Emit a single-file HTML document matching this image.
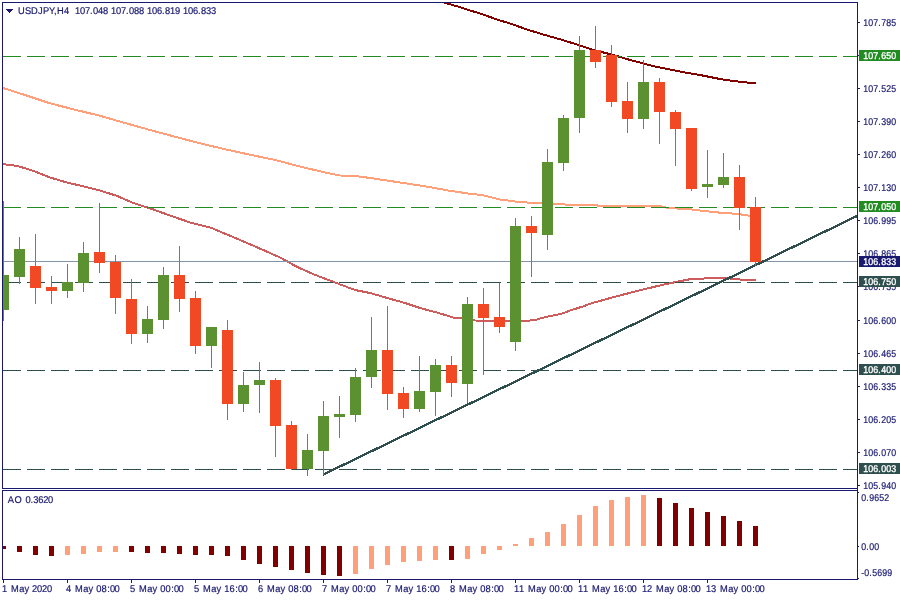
<!DOCTYPE html>
<html lang="en"><head><meta charset="utf-8"><title>USDJPY,H4</title>
<style>
html,body{margin:0;padding:0;background:#fff;}
body{width:900px;height:600px;overflow:hidden;}
svg{display:block;}
text{font-family:"Liberation Sans",Arial,sans-serif;font-size:9.8px;text-rendering:geometricPrecision;fill:#191970;stroke:#191970;stroke-width:0.2px;}
.w{fill:#fff;stroke:#fff;stroke-width:0.35px;}
</style></head><body>
<svg width="900" height="600" viewBox="0 0 900 600">
<rect x="0" y="0" width="900" height="600" fill="#fff"/>
<defs><clipPath id="cm"><rect x="3" y="3" width="854" height="485"/></clipPath>
<clipPath id="ci"><rect x="3" y="491" width="854" height="88"/></clipPath></defs>
<g clip-path="url(#cm)" shape-rendering="crispEdges">
<polyline fill="none" stroke="#ffa07a" stroke-width="2" stroke-linejoin="round" points="3,88 25,95 50,103.3 75,109.7 100,115.8 125,123 150,130 175,136.7 200,143.3 225,149.2 250,154.7 275,160 300,166.5 325,172.5 340,175.5 355,175.9 375,178.7 400,182.5 425,186.3 450,190.8 466.7,193.3 483.3,195.3 500,199.5 516.7,201.7 533.3,203 556.7,203.8 566.7,204.7 595,205 600,206 660,206 668,208 690,209.2 706.7,211.3 723.3,213 736.7,213.8 750,215.8 756,216.5"/>
<polyline fill="none" stroke="#cd5c5c" stroke-width="2" stroke-linejoin="round" points="3,164.2 16.7,165.8 33.3,170.8 50,177.5 66.7,182.5 83.3,186.3 100,190.5 116.7,195.8 133.3,203 150,208.3 165,213.7 190,222.5 211.7,228 240,240 265,250.8 280,257.5 296.7,266.7 313.3,274.2 335,282.5 355,290 370,293 388.3,298.3 405,303 420,308 436.7,312.5 453.3,317.5 461.7,318.3 475,320.5 493,320.8 528,320.8 536,319.7 545,317.2 561.7,313.7 570,310.5 585,305.8 590,303.7 615,296.7 640,290.3 665,284.2 690,279.2 715,278 733,278.6 741,279.7 756,280"/>
<polyline fill="none" stroke="#800000" stroke-width="2" stroke-linejoin="round" points="443,2.2 445,3 450,4.2 460,7.2 470,10.5 480,13.5 490,17 500,20.5 510,23.5 520,27 530,30.5 545,35 560,39.3 579.5,45.3 590.3,49 601.3,52 610.7,54.3 617,56 630,60 643.5,63.5 655,66.5 670,69.5 685,72.5 700,75 710,77 720,79 730,80.5 740,81.8 750,82.8 756,83"/>
<line x1="3" y1="261.5" x2="857" y2="261.5" stroke="#8593a8" stroke-width="1"/>
<line x1="3" y1="56.5" x2="857" y2="56.5" stroke="#228b22" stroke-width="1" stroke-dasharray="18 6"/>
<line x1="3" y1="207.5" x2="857" y2="207.5" stroke="#228b22" stroke-width="1" stroke-dasharray="18 6"/>
<line x1="3" y1="282.5" x2="857" y2="282.5" stroke="#2f4f4f" stroke-width="1" stroke-dasharray="18 6"/>
<line x1="3" y1="370.5" x2="857" y2="370.5" stroke="#2f4f4f" stroke-width="1" stroke-dasharray="18 6"/>
<line x1="3" y1="469.5" x2="857" y2="469.5" stroke="#2f4f4f" stroke-width="1" stroke-dasharray="18 6"/>
<line x1="323" y1="474.7" x2="857" y2="216.0" stroke="#2f4f4f" stroke-width="2.3"/>
<rect x="3" y="201" width="1" height="120" fill="#5b9130"/>
<rect x="-2" y="275" width="11" height="35" fill="#5b9130"/>
<rect x="19" y="237" width="1" height="47" fill="#5b9130"/>
<rect x="14" y="249" width="11" height="28" fill="#5b9130"/>
<rect x="35" y="234" width="1" height="70" fill="#f04923"/>
<rect x="30" y="266" width="11" height="22" fill="#f04923"/>
<rect x="51" y="276" width="1" height="28" fill="#f04923"/>
<rect x="46" y="287" width="11" height="4" fill="#f04923"/>
<rect x="67" y="264" width="1" height="34" fill="#5b9130"/>
<rect x="62" y="282" width="11" height="9" fill="#5b9130"/>
<rect x="83" y="242" width="1" height="50" fill="#5b9130"/>
<rect x="78" y="253" width="11" height="30" fill="#5b9130"/>
<rect x="99" y="203" width="1" height="70" fill="#f04923"/>
<rect x="94" y="252" width="11" height="11" fill="#f04923"/>
<rect x="115" y="255" width="1" height="59" fill="#f04923"/>
<rect x="110" y="262" width="11" height="36" fill="#f04923"/>
<rect x="131" y="279" width="1" height="65" fill="#f04923"/>
<rect x="126" y="299" width="11" height="35" fill="#f04923"/>
<rect x="147" y="306" width="1" height="37" fill="#5b9130"/>
<rect x="142" y="319" width="11" height="15" fill="#5b9130"/>
<rect x="163" y="267" width="1" height="62" fill="#5b9130"/>
<rect x="158" y="275" width="11" height="45" fill="#5b9130"/>
<rect x="179" y="246" width="1" height="66" fill="#f04923"/>
<rect x="174" y="275" width="11" height="24" fill="#f04923"/>
<rect x="195" y="291" width="1" height="63" fill="#f04923"/>
<rect x="190" y="298" width="11" height="48" fill="#f04923"/>
<rect x="211" y="327" width="1" height="41" fill="#5b9130"/>
<rect x="206" y="327" width="11" height="19" fill="#5b9130"/>
<rect x="227" y="320" width="1" height="100" fill="#f04923"/>
<rect x="222" y="330" width="11" height="74" fill="#f04923"/>
<rect x="243" y="372" width="1" height="40" fill="#5b9130"/>
<rect x="238" y="385" width="11" height="19" fill="#5b9130"/>
<rect x="259" y="362" width="1" height="51" fill="#5b9130"/>
<rect x="254" y="380" width="11" height="5" fill="#5b9130"/>
<rect x="275" y="378" width="1" height="79" fill="#f04923"/>
<rect x="270" y="380" width="11" height="46" fill="#f04923"/>
<rect x="291" y="421" width="1" height="49" fill="#f04923"/>
<rect x="286" y="425" width="11" height="44" fill="#f04923"/>
<rect x="307" y="434" width="1" height="42" fill="#5b9130"/>
<rect x="302" y="450" width="11" height="19" fill="#5b9130"/>
<rect x="323" y="401" width="1" height="74" fill="#5b9130"/>
<rect x="318" y="416" width="11" height="35" fill="#5b9130"/>
<rect x="339" y="396" width="1" height="42" fill="#5b9130"/>
<rect x="334" y="414" width="11" height="3" fill="#5b9130"/>
<rect x="355" y="368" width="1" height="54" fill="#5b9130"/>
<rect x="350" y="377" width="11" height="38" fill="#5b9130"/>
<rect x="371" y="317" width="1" height="71" fill="#5b9130"/>
<rect x="366" y="350" width="11" height="27" fill="#5b9130"/>
<rect x="387" y="306" width="1" height="104" fill="#f04923"/>
<rect x="382" y="350" width="11" height="44" fill="#f04923"/>
<rect x="403" y="387" width="1" height="31" fill="#f04923"/>
<rect x="398" y="393" width="11" height="16" fill="#f04923"/>
<rect x="419" y="356" width="1" height="56" fill="#5b9130"/>
<rect x="414" y="391" width="11" height="18" fill="#5b9130"/>
<rect x="435" y="359" width="1" height="57" fill="#5b9130"/>
<rect x="430" y="365" width="11" height="27" fill="#5b9130"/>
<rect x="451" y="356" width="1" height="41" fill="#f04923"/>
<rect x="446" y="365" width="11" height="18" fill="#f04923"/>
<rect x="467" y="297" width="1" height="106" fill="#5b9130"/>
<rect x="462" y="304" width="11" height="80" fill="#5b9130"/>
<rect x="483" y="288" width="1" height="87" fill="#f04923"/>
<rect x="478" y="304" width="11" height="14" fill="#f04923"/>
<rect x="499" y="283" width="1" height="50" fill="#f04923"/>
<rect x="494" y="317" width="11" height="10" fill="#f04923"/>
<rect x="515" y="218" width="1" height="133" fill="#5b9130"/>
<rect x="510" y="226" width="11" height="116" fill="#5b9130"/>
<rect x="531" y="216" width="1" height="61" fill="#f04923"/>
<rect x="526" y="226" width="11" height="7" fill="#f04923"/>
<rect x="547" y="149" width="1" height="101" fill="#5b9130"/>
<rect x="542" y="162" width="11" height="73" fill="#5b9130"/>
<rect x="563" y="115" width="1" height="56" fill="#5b9130"/>
<rect x="558" y="118" width="11" height="45" fill="#5b9130"/>
<rect x="579" y="36" width="1" height="97" fill="#5b9130"/>
<rect x="574" y="50" width="11" height="68" fill="#5b9130"/>
<rect x="595" y="26" width="1" height="42" fill="#f04923"/>
<rect x="590" y="50" width="11" height="12" fill="#f04923"/>
<rect x="611" y="45" width="1" height="62" fill="#f04923"/>
<rect x="606" y="55" width="11" height="47" fill="#f04923"/>
<rect x="627" y="82" width="1" height="51" fill="#f04923"/>
<rect x="622" y="101" width="11" height="18" fill="#f04923"/>
<rect x="643" y="60" width="1" height="69" fill="#5b9130"/>
<rect x="638" y="82" width="11" height="37" fill="#5b9130"/>
<rect x="659" y="78" width="1" height="66" fill="#f04923"/>
<rect x="654" y="82" width="11" height="30" fill="#f04923"/>
<rect x="675" y="110" width="1" height="56" fill="#f04923"/>
<rect x="670" y="112" width="11" height="17" fill="#f04923"/>
<rect x="691" y="128" width="1" height="63" fill="#f04923"/>
<rect x="686" y="128" width="11" height="61" fill="#f04923"/>
<rect x="707" y="150" width="1" height="48" fill="#5b9130"/>
<rect x="702" y="184" width="11" height="3" fill="#5b9130"/>
<rect x="723" y="153" width="1" height="35" fill="#5b9130"/>
<rect x="718" y="177" width="11" height="8" fill="#5b9130"/>
<rect x="739" y="165" width="1" height="65" fill="#f04923"/>
<rect x="734" y="177" width="11" height="31" fill="#f04923"/>
<rect x="755" y="197" width="1" height="69" fill="#f04923"/>
<rect x="750" y="207" width="11" height="55" fill="#f04923"/>
</g>
<g clip-path="url(#ci)" shape-rendering="crispEdges">
<rect x="1" y="546" width="5" height="3" fill="#800000"/>
<rect x="17" y="546" width="5" height="6" fill="#800000"/>
<rect x="33" y="546" width="5" height="9" fill="#800000"/>
<rect x="49" y="546" width="5" height="10" fill="#800000"/>
<rect x="65" y="546" width="5" height="9" fill="#ffa07a"/>
<rect x="81" y="546" width="5" height="8" fill="#ffa07a"/>
<rect x="97" y="546" width="5" height="6" fill="#ffa07a"/>
<rect x="113" y="546" width="5" height="6" fill="#ffa07a"/>
<rect x="129" y="546" width="5" height="6" fill="#800000"/>
<rect x="145" y="546" width="5" height="7" fill="#800000"/>
<rect x="161" y="546" width="5" height="7" fill="#800000"/>
<rect x="177" y="546" width="5" height="8" fill="#800000"/>
<rect x="193" y="546" width="5" height="9" fill="#800000"/>
<rect x="209" y="546" width="5" height="9" fill="#800000"/>
<rect x="225" y="546" width="5" height="10" fill="#800000"/>
<rect x="241" y="546" width="5" height="14" fill="#800000"/>
<rect x="257" y="546" width="5" height="18" fill="#800000"/>
<rect x="273" y="546" width="5" height="21" fill="#800000"/>
<rect x="289" y="546" width="5" height="24" fill="#800000"/>
<rect x="305" y="546" width="5" height="27" fill="#800000"/>
<rect x="321" y="546" width="5" height="29" fill="#800000"/>
<rect x="337" y="546" width="5" height="30" fill="#800000"/>
<rect x="353" y="546" width="5" height="28" fill="#ffa07a"/>
<rect x="369" y="546" width="5" height="23" fill="#ffa07a"/>
<rect x="385" y="546" width="5" height="19" fill="#ffa07a"/>
<rect x="401" y="546" width="5" height="16" fill="#ffa07a"/>
<rect x="417" y="546" width="5" height="15" fill="#ffa07a"/>
<rect x="433" y="546" width="5" height="14" fill="#ffa07a"/>
<rect x="449" y="546" width="5" height="14" fill="#800000"/>
<rect x="465" y="546" width="5" height="13" fill="#ffa07a"/>
<rect x="481" y="546" width="5" height="8" fill="#ffa07a"/>
<rect x="497" y="546" width="5" height="4" fill="#ffa07a"/>
<rect x="513" y="544" width="5" height="2" fill="#ffa07a"/>
<rect x="529" y="538" width="5" height="8" fill="#ffa07a"/>
<rect x="545" y="532" width="5" height="14" fill="#ffa07a"/>
<rect x="561" y="524" width="5" height="22" fill="#ffa07a"/>
<rect x="577" y="515" width="5" height="31" fill="#ffa07a"/>
<rect x="593" y="506" width="5" height="40" fill="#ffa07a"/>
<rect x="609" y="500" width="5" height="46" fill="#ffa07a"/>
<rect x="625" y="497" width="5" height="49" fill="#ffa07a"/>
<rect x="641" y="495" width="5" height="51" fill="#ffa07a"/>
<rect x="657" y="498" width="5" height="48" fill="#800000"/>
<rect x="673" y="503" width="5" height="43" fill="#800000"/>
<rect x="689" y="508" width="5" height="38" fill="#800000"/>
<rect x="705" y="512" width="5" height="34" fill="#800000"/>
<rect x="721" y="516" width="5" height="30" fill="#800000"/>
<rect x="737" y="521" width="5" height="25" fill="#800000"/>
<rect x="753" y="526" width="5" height="20" fill="#800000"/>
</g>
<g shape-rendering="crispEdges" fill="#191970">
<rect x="2" y="2" width="856" height="1"/>
<rect x="2" y="2" width="1" height="487"/>
<rect x="2" y="488" width="856" height="1"/>
<rect x="857" y="2" width="1" height="578"/>
<rect x="2" y="490" width="856" height="1"/>
<rect x="2" y="490" width="1" height="90"/>
<rect x="2" y="579" width="856" height="1"/>
<rect x="858" y="22" width="2" height="1"/>
<rect x="858" y="88" width="2" height="1"/>
<rect x="858" y="121" width="2" height="1"/>
<rect x="858" y="154" width="2" height="1"/>
<rect x="858" y="187" width="2" height="1"/>
<rect x="858" y="220" width="2" height="1"/>
<rect x="858" y="253" width="2" height="1"/>
<rect x="858" y="286" width="2" height="1"/>
<rect x="858" y="320" width="2" height="1"/>
<rect x="858" y="353" width="2" height="1"/>
<rect x="858" y="386" width="2" height="1"/>
<rect x="858" y="419" width="2" height="1"/>
<rect x="858" y="452" width="2" height="1"/>
<rect x="858" y="485" width="2" height="1"/>
<rect x="858" y="55" width="2" height="1"/>
<rect x="858" y="492" width="1" height="1"/>
<rect x="858" y="546" width="1" height="1"/>
<rect x="858" y="578" width="1" height="1"/>
<rect x="3" y="580" width="1" height="3"/>
<rect x="67" y="580" width="1" height="3"/>
<rect x="131" y="580" width="1" height="3"/>
<rect x="195" y="580" width="1" height="3"/>
<rect x="259" y="580" width="1" height="3"/>
<rect x="323" y="580" width="1" height="3"/>
<rect x="387" y="580" width="1" height="3"/>
<rect x="451" y="580" width="1" height="3"/>
<rect x="515" y="580" width="1" height="3"/>
<rect x="579" y="580" width="1" height="3"/>
<rect x="643" y="580" width="1" height="3"/>
<rect x="707" y="580" width="1" height="3"/>
</g>
<path d="M6 9h7v1h-1v1h-1v1h-1v1h-1v-1h-1v-1h-1v-1h-1z" fill="#191970" shape-rendering="crispEdges"/>
<text transform="scale(0.95 1)" x="18.95 26.32 32.63 40.00 45.26 51.58 56.84 60.00 67.37 72.63 75.79 78.95 84.21 89.47 94.74 97.89 103.16 108.42 113.68 116.84 122.11 127.37 132.63 135.79 141.05 146.32 151.58 154.74 160.00 165.26 170.53 173.68 178.95 184.21 189.47 192.63 197.89 203.16 208.42 211.58 216.84 222.11" y="14" xml:space="preserve">USDJPY,H4  107.048 107.088 106.819 106.833</text>
<text transform="scale(0.95 1)" x="8.21 15.26 22.63 26.95 32.21 34.95 40.21 45.47 50.53" y="503" xml:space="preserve">AO 0.3620</text>
<text transform="scale(0.9 1)" x="959.22 964.78 970.33 975.89 979.22 984.78 990.33" y="26" xml:space="preserve">107.785</text>
<text transform="scale(0.9 1)" x="959.22 964.78 970.33 975.89 979.22 984.78 990.33" y="92" xml:space="preserve">107.525</text>
<text transform="scale(0.9 1)" x="959.22 964.78 970.33 975.89 979.22 984.78 990.33" y="125" xml:space="preserve">107.390</text>
<text transform="scale(0.9 1)" x="959.22 964.78 970.33 975.89 979.22 984.78 990.33" y="158" xml:space="preserve">107.260</text>
<text transform="scale(0.9 1)" x="959.22 964.78 970.33 975.89 979.22 984.78 990.33" y="191" xml:space="preserve">107.130</text>
<text transform="scale(0.9 1)" x="959.22 964.78 970.33 975.89 979.22 984.78 990.33" y="224" xml:space="preserve">106.995</text>
<text transform="scale(0.9 1)" x="959.22 964.78 970.33 975.89 979.22 984.78 990.33" y="257" xml:space="preserve">106.865</text>
<text transform="scale(0.9 1)" x="959.22 964.78 970.33 975.89 979.22 984.78 990.33" y="290" xml:space="preserve">106.735</text>
<text transform="scale(0.9 1)" x="959.22 964.78 970.33 975.89 979.22 984.78 990.33" y="324" xml:space="preserve">106.600</text>
<text transform="scale(0.9 1)" x="959.22 964.78 970.33 975.89 979.22 984.78 990.33" y="357" xml:space="preserve">106.465</text>
<text transform="scale(0.9 1)" x="959.22 964.78 970.33 975.89 979.22 984.78 990.33" y="390" xml:space="preserve">106.335</text>
<text transform="scale(0.9 1)" x="959.22 964.78 970.33 975.89 979.22 984.78 990.33" y="423" xml:space="preserve">106.205</text>
<text transform="scale(0.9 1)" x="959.22 964.78 970.33 975.89 979.22 984.78 990.33" y="456" xml:space="preserve">106.070</text>
<text transform="scale(0.9 1)" x="959.22 964.78 970.33 975.89 979.22 984.78 990.33" y="489" xml:space="preserve">105.940</text>
<rect x="859" y="50" width="41" height="11" fill="#228b22" shape-rendering="crispEdges"/>
<text transform="scale(0.9 1)" x="959.22 964.78 970.33 975.89 979.22 984.78 990.33" y="59" class="w" xml:space="preserve">107.650</text>
<rect x="859" y="201" width="41" height="11" fill="#228b22" shape-rendering="crispEdges"/>
<text transform="scale(0.9 1)" x="959.22 964.78 970.33 975.89 979.22 984.78 990.33" y="210" class="w" xml:space="preserve">107.050</text>
<rect x="859" y="276" width="41" height="11" fill="#2f4f4f" shape-rendering="crispEdges"/>
<text transform="scale(0.9 1)" x="959.22 964.78 970.33 975.89 979.22 984.78 990.33" y="285" class="w" xml:space="preserve">106.750</text>
<rect x="859" y="364" width="41" height="11" fill="#2f4f4f" shape-rendering="crispEdges"/>
<text transform="scale(0.9 1)" x="959.22 964.78 970.33 975.89 979.22 984.78 990.33" y="373" class="w" xml:space="preserve">106.400</text>
<rect x="859" y="463" width="41" height="11" fill="#2f4f4f" shape-rendering="crispEdges"/>
<text transform="scale(0.9 1)" x="959.22 964.78 970.33 975.89 979.22 984.78 990.33" y="472" class="w" xml:space="preserve">106.003</text>
<rect x="859" y="256" width="41" height="11" fill="#191970" shape-rendering="crispEdges"/>
<text transform="scale(0.9 1)" x="959.22 964.78 970.33 975.89 979.22 984.78 990.33" y="265" class="w" xml:space="preserve">106.833</text>
<text transform="scale(0.9 1)" x="957.00 962.56 965.89 971.44 977.00 982.56" y="501" xml:space="preserve">0.9652</text>
<text transform="scale(0.9 1)" x="957.00 962.56 965.89 971.44" y="550" xml:space="preserve">0.00</text>
<text transform="scale(0.9 1)" x="957.00 960.33 965.89 969.22 974.78 980.33 985.89" y="576" xml:space="preserve">-0.5699</text>
<text transform="scale(0.95 1)" x="2.11 7.37 11.58 20.32 25.89 30.53 33.68 38.95 44.21 49.47" y="592" xml:space="preserve">1 May 2020</text>
<text transform="scale(0.95 1)" x="69.47 74.74 78.95 87.68 93.26 97.89 101.37 106.95 112.84 115.79 120.42" y="592" xml:space="preserve">4 May 08:00</text>
<text transform="scale(0.95 1)" x="136.84 142.11 146.32 155.05 160.63 165.26 168.74 174.32 180.21 183.16 187.79" y="592" xml:space="preserve">5 May 00:00</text>
<text transform="scale(0.95 1)" x="204.21 209.47 213.68 222.42 228.00 232.63 236.11 241.68 247.58 250.53 255.16" y="592" xml:space="preserve">5 May 16:00</text>
<text transform="scale(0.95 1)" x="271.58 276.84 281.05 289.79 295.37 300.00 303.47 309.05 314.95 317.89 322.53" y="592" xml:space="preserve">6 May 08:00</text>
<text transform="scale(0.95 1)" x="338.95 344.21 348.42 357.16 362.74 367.37 370.84 376.42 382.32 385.26 389.89" y="592" xml:space="preserve">7 May 00:00</text>
<text transform="scale(0.95 1)" x="406.32 411.58 415.79 424.53 430.11 434.74 438.21 443.79 449.68 452.63 457.26" y="592" xml:space="preserve">7 May 16:00</text>
<text transform="scale(0.95 1)" x="473.68 478.95 483.16 491.89 497.47 502.11 505.58 511.16 517.05 520.00 524.63" y="592" xml:space="preserve">8 May 08:00</text>
<text transform="scale(0.95 1)" x="541.05 546.32 551.58 555.79 564.53 570.11 574.74 578.21 583.79 589.68 592.63 597.26" y="592" xml:space="preserve">11 May 00:00</text>
<text transform="scale(0.95 1)" x="608.42 613.68 618.95 623.16 631.89 637.47 642.11 645.58 651.16 657.05 660.00 664.63" y="592" xml:space="preserve">11 May 16:00</text>
<text transform="scale(0.95 1)" x="675.79 681.05 686.32 690.53 699.26 704.84 709.47 712.95 718.53 724.42 727.37 732.00" y="592" xml:space="preserve">12 May 08:00</text>
<text transform="scale(0.95 1)" x="743.16 748.42 753.68 757.89 766.63 772.21 776.84 780.32 785.89 791.79 794.74 799.37" y="592" xml:space="preserve">13 May 00:00</text>
</svg></body></html>
